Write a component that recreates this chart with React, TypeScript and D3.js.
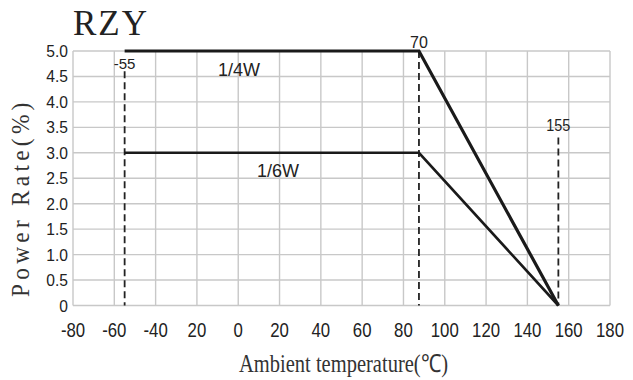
import * as d3 from 'd3'

// axis ticks
const xTicks = [-80, -60, -40, -20, 0, 20, 40, 60, 80, 100, 120, 140, 160, 180]
const xTickLabels = ['-80', '-60', '-40', '20', '0', '20', '40', '60', '80', '100', '120', '140', '160', '180']
const yTicks = [0, 0.5, 1, 1.5, 2, 2.5, 3, 3.5, 4, 4.5, 5]
const yTickLabels = ['0', '0.5', '1.0', '1.5', '2.0', '2.5', '3.0', '3.5', '4.0', '4.5', '5.0']

// derating curves (temperature, power)
const temps = [-55, 87.5, 155]
const quarterW = [5, 5, 0]
const sixthW = [3, 3, 0]

// dashed markers
const markerTemps = [-55, 87.5, 155]
const markerTops = [4.6, 5, 3.3]
const markerLabels = ['-55', '70', '155']

const W = 633
const H = 380
const sans = "'Liberation Sans', Arial, sans-serif"
const serif = "'Liberation Serif', 'Times New Roman', serif"

export default function App() {
  const x = d3.scaleLinear().domain([-80, 180]).range([73, 610])
  const y = d3.scaleLinear().domain([0, 5]).range([305.5, 51])

  const line = d3.line<number>()
    .x((_, i) => x(temps[i]))
    .y(d => y(d))

  return (
    <svg width={W} height={H} style={{ position: 'absolute', left: 0, top: 0, background: '#fff' }}>
      {/* grid */}
      <g stroke="#c8c8c8" strokeWidth={1.4}>
        {xTicks.map(t => (
          <line key={'x' + t} x1={x(t)} x2={x(t)} y1={y(0)} y2={y(5)} />
        ))}
        {yTicks.map(t => (
          <line key={'y' + t} x1={x(-80)} x2={x(180)} y1={y(t)} y2={y(t)} />
        ))}
      </g>

      {/* tick labels */}
      {yTicks.map((t, i) => (
        <text key={'yl' + t} transform={`translate(68,${y(t) + 6}) scale(0.92,1)`} textAnchor="end"
          fontFamily={sans} fontSize={17} fill="#222">
          {yTickLabels[i]}
        </text>
      ))}
      {xTicks.map((t, i) => (
        <text key={'xl' + t} transform={`translate(${x(t)},337) scale(0.84,1)`} textAnchor="middle"
          fontFamily={sans} fontSize={20} fill="#222">
          {xTickLabels[i]}
        </text>
      ))}

      {/* dashed markers */}
      {markerTemps.map((t, i) => (
        <line key={'m' + t} x1={x(t)} x2={x(t)} y1={y(markerTops[i])} y2={y(0)}
          stroke="#222" strokeWidth={1.8} strokeDasharray="7 4" />
      ))}
      <text x={x(markerTemps[0])} y={69} textAnchor="middle" fontFamily={sans} fontSize={15} fill="#222">{markerLabels[0]}</text>
      <text x={x(markerTemps[1])} y={48} textAnchor="middle" fontFamily={sans} fontSize={16} fill="#222">{markerLabels[1]}</text>
      <text transform={`translate(${x(markerTemps[2])},131) scale(0.9,1)`} textAnchor="middle" fontFamily={sans} fontSize={16} fill="#222">{markerLabels[2]}</text>

      {/* curves */}
      <path d={line(quarterW) ?? ''} fill="none" stroke="#1a1a1a" strokeWidth={3.2} strokeLinejoin="miter" />
      <path d={line(sixthW) ?? ''} fill="none" stroke="#1a1a1a" strokeWidth={2.6} strokeLinejoin="miter" />

      <text x={239} y={76} textAnchor="middle" fontFamily={sans} fontSize={18} fill="#222">1/4W</text>
      <text x={278} y={177} textAnchor="middle" fontFamily={sans} fontSize={18} fill="#222">1/6W</text>

      {/* titles */}
      <text x={73} y={35} fontFamily={serif} fontSize={35} fill="#222" letterSpacing={2}>RZY</text>
      <text x={239} y={372} fontFamily={serif} fontSize={25} fill="#333" textLength={209} lengthAdjust="spacingAndGlyphs">
        Ambient temperature(℃)
      </text>
      <g transform="translate(29,297) rotate(-90) scale(0.9,1)">
        <text fontFamily={serif} fontSize={26} fill="#333" textLength={216} lengthAdjust="spacing">
          Power Rate(%)
        </text>
      </g>
    </svg>
  )
}
